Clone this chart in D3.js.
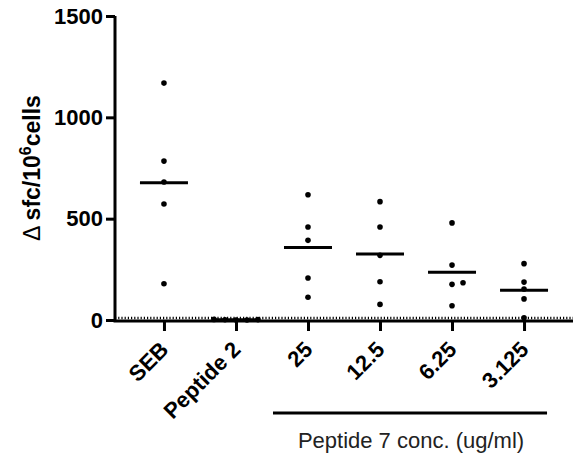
<!DOCTYPE html>
<html>
<head>
<meta charset="utf-8">
<script src="https://cdn.jsdelivr.net/npm/d3@7"></script>
<style>
  html, body { margin: 0; padding: 0; background: #fff; }
  svg { display: block; }
  text { font-family: "Liberation Sans", Arial, sans-serif; }
</style>
</head>
<body>
<svg id="chart" width="576" height="462"></svg>
<script>
// ---- data ----
const categories = ["SEB", "Peptide 2", "25", "12.5", "6.25", "3.125"];
const seb       = [1169, 784, 681, 572, 179];
const peptide2  = [3, 2, 1, 0, 0];
const conc25    = [618, 459, 393, 207, 112];
const conc12_5  = [584, 459, 319, 189, 77];
const conc6_25  = [479, 271, 184, 176, 70];
const conc3_125 = [278, 187, 153, 104, 11];
const seriesValues = [seb, peptide2, conc25, conc12_5, conc6_25, conc3_125];
const yTicks = [0, 500, 1000, 1500];
const yLabel = "sfc/10";
const groupLabel = "Peptide 7 conc. (ug/ml)";
const groupedCats = ["25", "12.5", "6.25", "3.125"];

// ---- layout ----
const svg = d3.select("#chart");
const mLeft = 115, mRight = 573, mTop = 16, mBottom = 320;

const x = d3.scalePoint().domain(categories).range([mLeft, mRight]).padding(0.68);
const y = d3.scaleLinear().domain([0, 1500]).range([mBottom, mTop]);

// y axis
const yAxis = svg.append("g")
  .attr("transform", `translate(${mLeft},0)`)
  .call(d3.axisLeft(y).tickValues(yTicks).tickSize(9).tickPadding(3).tickFormat(d3.format("d")));
yAxis.select(".domain").attr("stroke", "#000").attr("stroke-width", 3)
  .attr("d", `M0,${mTop}V${mBottom + 1.5}`);
yAxis.selectAll(".tick line").attr("stroke", "#000").attr("stroke-width", 3);
yAxis.selectAll(".tick text").attr("fill", "#000").attr("font-size", 22).attr("font-weight", "bold")
  .attr("font-family", "Liberation Sans, Arial, sans-serif");

// x axis
const xAxis = svg.append("g")
  .attr("transform", `translate(0,${mBottom + 1})`)
  .call(d3.axisBottom(x).tickSize(10).tickFormat(""));
xAxis.select(".domain").attr("stroke", "#000").attr("stroke-width", 3)
  .attr("d", `M${mLeft - 1.5},0H${mRight}`);
xAxis.selectAll(".tick line").attr("stroke", "#000").attr("stroke-width", 3);

// dotted zero line
svg.append("line")
  .attr("x1", mLeft).attr("x2", mRight)
  .attr("y1", y(0) - 2).attr("y2", y(0) - 2)
  .attr("stroke", "#000").attr("stroke-width", 2.5).attr("stroke-dasharray", "1.2 2");

// x tick labels (rotated)
svg.append("g").selectAll("text").data(categories).join("text")
  .attr("transform", d => `translate(${x(d) - 5},${mBottom + 20}) rotate(-45)`)
  .attr("text-anchor", "end")
  .attr("dy", "0.7em")
  .attr("font-size", 22).attr("font-weight", "bold").attr("fill", "#000")
  .text(d => d);

// y axis label
const yl = svg.append("text")
  .attr("transform", `translate(40,168) rotate(-90)`)
  .attr("text-anchor", "middle")
  .attr("font-size", 23).attr("font-weight", "bold").attr("fill", "#000");
yl.append("tspan").attr("font-weight", "normal").text("\u0394 ");
yl.append("tspan").text(yLabel);
yl.append("tspan").attr("font-size", 16).attr("dy", -9).text("6");
yl.append("tspan").attr("dy", 9).text("cells");

// points with simple beeswarm spread for overlapping values
const r = 2.8, spread = 11, minDy = 5.5;
const pts = [];
categories.forEach((c, i) => {
  const vals = seriesValues[i].slice().sort((a, b) => a - b);
  const placed = [];
  vals.forEach(v => {
    const py = y(v);
    const offsets = [0, 1, -1, 2, -2, 3, -3];
    let off = 0;
    for (const o of offsets) {
      const clash = placed.some(p => Math.abs(p.py - py) < minDy && p.o === o);
      if (!clash) { off = o; break; }
    }
    placed.push({ py, o: off });
    pts.push({ c, v, cx: x(c) + off * spread, cy: py });
  });
});

svg.append("g").selectAll("circle").data(pts).join("circle")
  .attr("cx", d => d.cx).attr("cy", d => d.cy).attr("r", r).attr("fill", "#000");

// mean lines
svg.append("g").selectAll("line").data(categories).join("line")
  .attr("x1", d => x(d) - 24).attr("x2", d => x(d) + 24)
  .attr("y1", (d, i) => y(d3.mean(seriesValues[i])))
  .attr("y2", (d, i) => y(d3.mean(seriesValues[i])))
  .attr("stroke", "#000").attr("stroke-width", 3);

// group bracket
const gx1 = x(groupedCats[0]) - 35, gx2 = x(groupedCats[groupedCats.length - 1]) + 23;
svg.append("line")
  .attr("x1", gx1).attr("x2", gx2).attr("y1", 413).attr("y2", 413)
  .attr("stroke", "#000").attr("stroke-width", 3);
svg.append("text")
  .attr("x", (gx1 + gx2) / 2 + 1).attr("y", 448)
  .attr("text-anchor", "middle")
  .attr("font-size", 22).attr("fill", "#222")
  .text(groupLabel);
</script>
</body>
</html>
